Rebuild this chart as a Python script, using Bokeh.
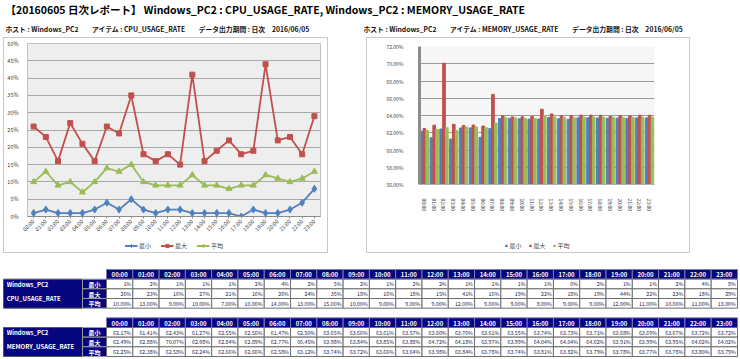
import math
from bokeh.plotting import figure
from bokeh.layouts import column, row
from bokeh.models import (Range1d, FactorRange, ColumnDataSource, Legend, LegendItem,
                          NumeralTickFormatter, FixedTicker, Spacer)
from bokeh.transform import dodge
from bokeh.core.properties import value
from bokeh.embed import file_html
from bokeh.resources import INLINE

# ---------------- data ----------------
HOURS = ["00:00", "01:00", "02:00", "03:00", "04:00", "05:00", "06:00", "07:00",
         "08:00", "09:00", "10:00", "11:00", "12:00", "13:00", "14:00", "15:00",
         "16:00", "17:00", "18:00", "19:00", "20:00", "21:00", "22:00", "23:00"]

CPU_MIN = [1, 2, 1, 1, 1, 2, 4, 2, 5, 2, 1, 2, 2, 1, 1, 1, 1, 0, 2, 1, 1, 2, 4, 8]
CPU_MAX = [26, 23, 16, 27, 21, 16, 26, 24, 35, 18, 16, 18, 15, 41, 16, 19, 22, 18, 19, 44, 22, 23, 18, 29]
CPU_AVG = [10, 13, 9, 10, 7, 10, 14, 13, 15, 10, 9, 9, 9, 12, 9, 9, 8, 9, 9, 12, 11, 10, 11, 13]

MEM_MIN = [62.17, 61.41, 62.43, 61.27, 62.55, 62.56, 61.47, 62.50, 63.65, 63.66, 63.61, 63.57,
           63.60, 63.76, 63.61, 63.55, 63.74, 63.73, 63.71, 63.68, 63.69, 63.67, 63.72, 63.72]
MEM_MAX = [62.49, 62.88, 70.07, 62.98, 62.84, 62.89, 62.77, 66.45, 63.98, 63.84, 63.85, 63.88,
           64.72, 64.18, 63.97, 63.99, 64.04, 64.04, 64.02, 63.91, 63.99, 63.95, 64.02, 64.02]
MEM_AVG = [62.25, 62.38, 62.58, 62.24, 62.66, 62.66, 62.58, 63.12, 63.74, 63.72, 63.66, 63.64,
           63.98, 63.84, 63.78, 63.74, 63.81, 63.82, 63.79, 63.78, 63.77, 63.78, 63.80, 63.79]

STAT_LABELS = ["最小", "最大", "平均"]
HOST = "Windows_PC2"
ITEM_CPU = "CPU_USAGE_RATE"
ITEM_MEM = "MEMORY_USAGE_RATE"
TITLE = "【20160605 日次レポート】 Windows_PC2 : CPU_USAGE_RATE, Windows_PC2 : MEMORY_USAGE_RATE"
SUB_CPU = "ホスト : Windows_PC2　　アイテム : CPU_USAGE_RATE　　データ出力期間 : 日次　2016/06/05"
SUB_MEM = "ホスト : Windows_PC2　　アイテム : MEMORY_USAGE_RATE　　データ出力期間 : 日次　2016/06/05"
CPU_TICKS = [0, 5, 10, 15, 20, 25, 30, 35, 40, 45, 50]
MEM_TICKS = [56, 58, 60, 62, 64, 66, 68, 70, 72]

# ---------------- style ----------------
FONT = value("Noto Sans CJK JP")
FONT_NAME = "Noto Sans CJK JP"
BLUE, RED, GREEN = "#4F81BD", "#C0504D", "#9BBB59"
NAVY = "#06067e"
BOX_TOP = {"border": "1px solid #c8c8c8", "border-bottom": "none", "box-sizing": "border-box"}
BOX_BOTTOM = {"border": "1px solid #c8c8c8", "border-top": "none", "box-sizing": "border-box"}


def blank(fig):
    fig.grid.visible = False
    fig.outline_line_color = None
    fig.background_fill_color = "white"
    fig.border_fill_color = "white"


def legend_figure(width, height):
    # x: same categories; y: a window far above the data, so the data renderers
    # that feed the legend glyphs stay clipped out of view.
    f = figure(width=width, height=height, x_range=FactorRange(*HOURS), y_range=Range1d(10, 11),
               x_axis_location=None, y_axis_location=None, min_border=0,
               output_backend="svg", toolbar_location=None, styles=BOX_BOTTOM)
    blank(f)
    return f


# ---------------- header ----------------
hdr = figure(width=740, height=37, x_range=Range1d(0, 740), y_range=Range1d(37, 0),
             x_axis_location=None, y_axis_location=None, min_border=0,
             output_backend="svg", toolbar_location=None)
blank(hdr)
hdr.text(x=[5], y=[9], text=[TITLE], text_font=FONT, text_font_size="10.5px",
         text_font_style="bold", text_baseline="middle", text_color="#000000")
hdr.text(x=[5, 363], y=[28, 28], text=[SUB_CPU, SUB_MEM], text_font=FONT,
         text_font_size="6.8px", text_font_style="bold", text_baseline="middle",
         text_color="#111111")

# ---------------- CPU line chart ----------------
cpu_src = ColumnDataSource(dict(hour=HOURS,
                                mn=[v / 100 for v in CPU_MIN],
                                mx=[v / 100 for v in CPU_MAX],
                                av=[v / 100 for v in CPU_AVG]))
p1 = figure(width=325, height=200, x_range=FactorRange(*HOURS), y_range=Range1d(0, 0.5),
            min_border_left=22, min_border_right=9, min_border_top=5, min_border_bottom=22,
            output_backend="svg", toolbar_location=None, styles=BOX_TOP)
p1.background_fill_color = "#eeeeee"
p1.border_fill_color = "white"
p1.outline_line_color = "#c0c0c0"
p1.xgrid.visible = False
p1.ygrid.grid_line_color = "#a8a8a8"
p1.yaxis.ticker = FixedTicker(ticks=[t / 100 for t in CPU_TICKS])
p1.yaxis.formatter = NumeralTickFormatter(format="0%")
for ax in (p1.xaxis, p1.yaxis):
    ax.major_label_text_font = FONT_NAME
    ax.major_label_text_font_size = "5.5px"
    ax.major_label_text_color = "#404040"
    ax.minor_tick_line_color = None
    ax.major_tick_in = 0
p1.yaxis.axis_line_color = None
p1.yaxis.major_tick_line_color = None
p1.yaxis.major_label_standoff = 3
p1.xaxis.axis_line_color = "#8c8c8c"
p1.xaxis.major_tick_line_color = "#8c8c8c"
p1.xaxis.major_tick_out = 2
p1.xaxis.major_label_orientation = math.pi / 4
p1.xaxis.major_label_standoff = 2

SERIES_CPU = [("mn", BLUE, "diamond", 7), ("mx", RED, "square", 5), ("av", GREEN, "triangle", 6)]
for col_name, col, mk, sz in SERIES_CPU:
    p1.line("hour", col_name, source=cpu_src, color=col, line_width=1.8)
    p1.scatter("hour", col_name, source=cpu_src, marker=mk, size=sz, color=col)

# legend strip below the CPU chart
lg1 = legend_figure(325, 16)
items1 = []
for lab, (col_name, col, mk, sz) in zip(STAT_LABELS, SERIES_CPU):
    rl = lg1.line("hour", col_name, source=cpu_src, color=col, line_width=1.8)
    rs = lg1.scatter("hour", col_name, source=cpu_src, marker=mk, size=sz, color=col)
    items1.append(LegendItem(label=lab, renderers=[rl, rs]))
lg1.add_layout(Legend(items=items1, orientation="horizontal", location="center",
                      label_text_font=FONT_NAME, label_text_font_size="6px",
                      label_text_color="#404040", glyph_width=13, glyph_height=8,
                      label_width=12, label_height=8, spacing=9, padding=0, margin=0,
                      label_standoff=2, background_fill_alpha=0, border_line_color=None))

# ---------------- Memory bar chart ----------------
mem_src = ColumnDataSource(dict(hour=HOURS,
                                mn=[v / 100 for v in MEM_MIN],
                                mx=[v / 100 for v in MEM_MAX],
                                av=[v / 100 for v in MEM_AVG]))
p2 = figure(width=324, height=200, x_range=FactorRange(*HOURS), y_range=Range1d(0.56, 0.72),
            min_border_left=52, min_border_right=37, min_border_top=8, min_border_bottom=54,
            output_backend="svg", toolbar_location=None, styles=BOX_TOP)
p2.background_fill_color = "#f6f6f6"
p2.border_fill_color = "white"
p2.outline_line_color = None
p2.xgrid.visible = False
p2.ygrid.grid_line_color = "#9a9a9a"
p2.yaxis.ticker = FixedTicker(ticks=[t / 100 for t in MEM_TICKS])
p2.yaxis.formatter = NumeralTickFormatter(format="0.00%")
for ax in (p2.xaxis, p2.yaxis):
    ax.major_label_text_font = FONT_NAME
    ax.major_label_text_font_size = "5px"
    ax.major_label_text_color = "#404040"
    ax.minor_tick_line_color = None
    ax.major_tick_in = 0
p2.yaxis.axis_line_color = "#8c8c8c"
p2.yaxis.axis_line_width = 3
p2.yaxis.major_tick_line_color = None
p2.yaxis.major_label_standoff = 10
p2.xaxis.axis_line_color = "#b0b0b0"
p2.xaxis.major_tick_line_color = None
p2.xaxis.major_label_orientation = -math.pi / 2
p2.xaxis.major_label_standoff = 8

SERIES_MEM = [("mn", BLUE, -0.29), ("mx", RED, 0.0), ("av", GREEN, 0.29)]
for col_name, col, off in SERIES_MEM:
    p2.vbar(x=dodge("hour", off, range=p2.x_range), top=col_name, bottom=0.56, width=0.27,
            source=mem_src, color=col)

lg2 = legend_figure(324, 16)
items2 = []
for lab, (col_name, col, off) in zip(STAT_LABELS, SERIES_MEM):
    rs = lg2.scatter("hour", col_name, source=mem_src, marker="square", size=4, color=col)
    items2.append(LegendItem(label=lab, renderers=[rs]))
lg2.add_layout(Legend(items=items2, orientation="horizontal", location="center",
                      label_text_font=FONT_NAME, label_text_font_size="6px",
                      label_text_color="#404040", glyph_width=4, glyph_height=4,
                      label_width=12, label_height=8, spacing=6, padding=0, margin=0,
                      label_standoff=2, background_fill_alpha=0, border_line_color=None))

# ---------------- tables ----------------
tb = figure(width=740, height=106, x_range=Range1d(-4.032, 24.115), y_range=Range1d(9.31, -1.655),
            x_axis_location=None, y_axis_location=None, min_border=0,
            output_backend="svg", toolbar_location=None)
blank(tb)

LEFT_A, LEFT_B = -3.918, -0.913


def add_table(off, item, rows, fmt):
    # header
    tb.rect(x=[i + 0.5 for i in range(len(HOURS))], y=[off + 0.5] * len(HOURS), width=1, height=1,
            fill_color=NAVY, line_color="#7a7ab8", line_width=1)
    tb.text(x=[i + 0.5 for i in range(len(HOURS))], y=[off + 0.55] * len(HOURS), text=HOURS,
            text_font=FONT, text_font_size="6px", text_font_style="bold", text_color="white",
            text_align="center", text_baseline="middle")
    # left block
    tb.rect(x=[(LEFT_A + LEFT_B) / 2], y=[off + 2.5], width=LEFT_B - LEFT_A, height=3,
            fill_color=NAVY, line_color="#555555")
    tb.rect(x=[LEFT_B / 2] * 3, y=[off + 1.5 + r for r in range(3)], width=-LEFT_B, height=1,
            fill_color=NAVY, line_color="#9a9a9a")
    tb.text(x=[LEFT_B / 2] * 3, y=[off + 1.55 + r for r in range(3)], text=STAT_LABELS,
            text_font=FONT, text_font_size="6px", text_font_style="bold", text_color="white",
            text_align="center", text_baseline="middle")
    tb.text(x=[LEFT_A + 0.12, LEFT_A + 0.12], y=[off + 1.55, off + 2.95], text=[HOST, item],
            text_font=FONT, text_font_size="6px", text_font_style="bold", text_color="white",
            text_align="left", text_baseline="middle")
    # cells
    xs, ys, labels = [], [], []
    for r, vals in enumerate(rows):
        for i, v in enumerate(vals):
            xs.append(i + 0.5)
            ys.append(off + 1.5 + r)
            labels.append(fmt[r](v))
    tb.rect(x=xs, y=ys, width=1, height=1, fill_color="white", line_color="#6e6e6e")
    tb.text(x=[x + 0.44 for x in xs], y=[y + 0.05 for y in ys], text=labels,
            text_font=FONT, text_font_size="5.3px", text_color="#1a1a50",
            text_align="right", text_baseline="middle")


pct_int = lambda v: f"{v}%"
pct_2 = lambda v: f"{v:.2f}%"
add_table(0, ITEM_CPU, [CPU_MIN, CPU_MAX, CPU_AVG], [pct_int, pct_int, pct_2])
add_table(5, ITEM_MEM, [MEM_MIN, MEM_MAX, MEM_AVG], [pct_2, pct_2, pct_2])

# ---------------- layout ----------------
left_box = column(p1, lg1, spacing=0)
right_box = column(p2, lg2, spacing=0)
charts = row(Spacer(width=3, height=216), left_box, Spacer(width=38, height=216), right_box,
             Spacer(width=50, height=216), spacing=0)
page = column(hdr, charts, tb, spacing=0)

open("out.html", "w").write(file_html(page, INLINE))
